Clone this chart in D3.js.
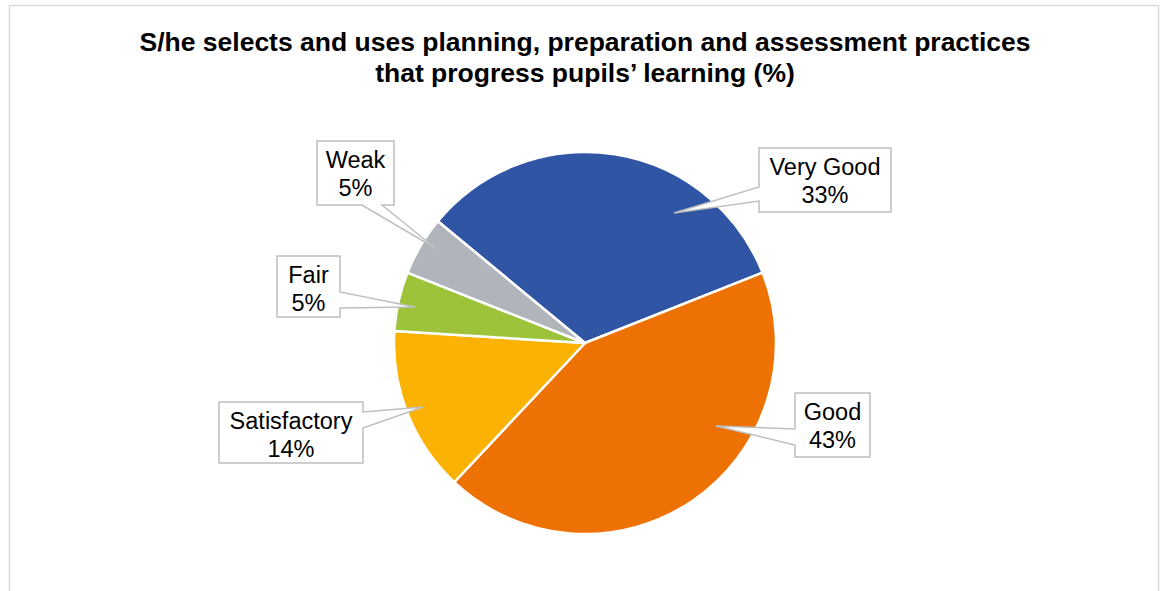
<!DOCTYPE html>
<html>
<head>
<meta charset="utf-8">
<script src="https://cdn.jsdelivr.net/npm/d3@7"></script>
<style>
  body { margin: 0; background: #fff; }
  text { font-family: "Liberation Sans", Arial, sans-serif; fill: #000; }
</style>
</head>
<body>
<div id="holder"></div>
<script>
const w = 1160;
const h = 591;

// DATA
const categories = ["Very Good", "Good", "Satisfactory", "Fair", "Weak"];
const values = [33, 43, 14, 5, 5];
const colors = ["#2F55A4", "#EE7203", "#FBB202", "#9DC33B", "#B0B5BB"];
const titleLines = [
    "S/he selects and uses planning, preparation and assessment practices",
    "that progress pupils\u2019 learning (%)"
];

// callout layout (box + pointer), same order as categories
const callouts = [
    { x: 759, y: 148, bw: 132, bh: 64, side: "left",   a: 39, b: 53, tip: [674, 213] },
    { x: 795, y: 393, bw: 75,  bh: 64, side: "left",   a: 36, b: 52, tip: [716, 426] },
    { x: 219, y: 402, bw: 144, bh: 61, side: "right",  a: 10, b: 26, tip: [423, 407] },
    { x: 277, y: 256, bw: 63,  bh: 61, side: "right",  a: 36, b: 52, tip: [415, 307] },
    { x: 317, y: 141, bw: 77,  bh: 64, side: "bottom", a: 45, b: 65, tip: [435, 248] }
];

const cx = 585, cy = 343, radius = 191;

const svg = d3.select("#holder")
    .append("svg")
    .attr("width", w)
    .attr("height", h);

// FRAME
svg.append("rect")
    .attr("x", 9.5)
    .attr("y", 5.5)
    .attr("width", 1149)
    .attr("height", 620)
    .attr("fill", "#fff")
    .attr("stroke", "#d9d9d9")
    .attr("stroke-width", 1.5);

// TITLE
svg.append("text")
    .attr("x", 585)
    .attr("y", 51)
    .attr("text-anchor", "middle")
    .style("font-size", "26.5px")
    .style("font-weight", "bold")
    .selectAll("tspan")
    .data(titleLines)
    .enter()
    .append("tspan")
    .attr("x", 585)
    .attr("dy", (d, i) => i === 0 ? 0 : 31)
    .text(d => d);

// PIE
const start = -50.4 * Math.PI / 180;
const pie = d3.pie().sort(null).startAngle(start).endAngle(start + 2 * Math.PI);
const arc = d3.arc().innerRadius(0).outerRadius(radius);

const g = svg.append("g").attr("transform", `translate(${cx},${cy})`);
g.selectAll("path")
    .data(pie(values))
    .enter()
    .append("path")
    .attr("d", arc)
    .attr("fill", (d, i) => colors[i])
    .attr("stroke", "#fff")
    .attr("stroke-width", 2.5)
    .attr("stroke-linejoin", "round");

// CALLOUTS
function calloutPath(c) {
    const x0 = c.x, y0 = c.y, x1 = c.x + c.bw, y1 = c.y + c.bh;
    const t = c.tip;
    let p;
    if (c.side === "left") {
        p = [[x0, y0], [x1, y0], [x1, y1], [x0, y1], [x0, y0 + c.b], t, [x0, y0 + c.a]];
    } else if (c.side === "right") {
        p = [[x0, y0], [x1, y0], [x1, y0 + c.a], t, [x1, y0 + c.b], [x1, y1], [x0, y1]];
    } else {
        p = [[x0, y0], [x1, y0], [x1, y1], [x0 + c.b, y1], t, [x0 + c.a, y1], [x0, y1]];
    }
    return "M" + p.map(q => q.join(",")).join("L") + "Z";
}

const lab = svg.append("g").selectAll("g")
    .data(callouts)
    .enter()
    .append("g");

lab.append("path")
    .attr("d", calloutPath)
    .attr("fill", "#fff")
    .attr("stroke", "#bfbfbf")
    .attr("stroke-width", 1.5)
    .attr("stroke-linejoin", "miter");

lab.append("text")
    .attr("text-anchor", "middle")
    .style("font-size", "23.5px")
    .each(function (c, i) {
        const t = d3.select(this);
        t.append("tspan")
            .attr("x", c.x + c.bw / 2)
            .attr("y", c.y + 27)
            .text(categories[i]);
        t.append("tspan")
            .attr("x", c.x + c.bw / 2)
            .attr("y", c.y + 55)
            .text(values[i] + "%");
    });
</script>
</body>
</html>
